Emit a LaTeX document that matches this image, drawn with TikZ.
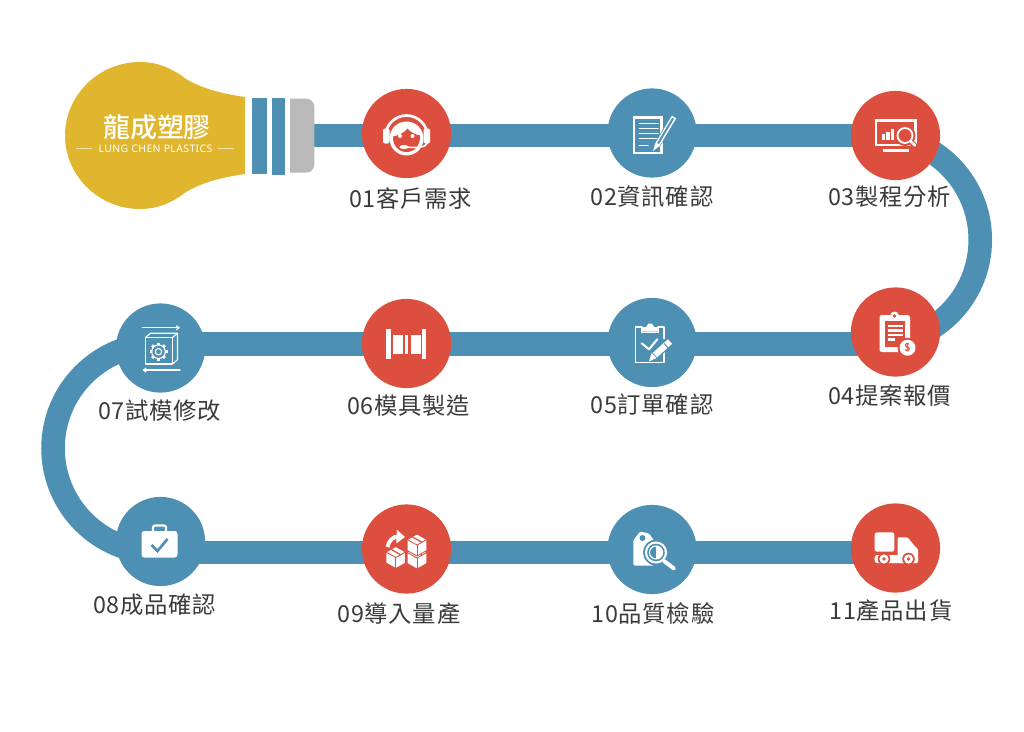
\documentclass[tikz,border=0pt]{standalone}
\usepackage{fontspec}
\newfontfamily\cjklabel[LetterSpace=3]{Noto Sans CJK TC}
\newfontfamily\cjklogo{Noto Sans CJK TC Medium}
\newfontfamily\logolatin[LetterSpace=4]{Noto Sans}
\usetikzlibrary{backgrounds,arrows.meta,calc}
\definecolor{pipeblue}{HTML}{4D90B3}
\definecolor{stopred}{HTML}{DC4F3F}
\definecolor{bulbgold}{HTML}{DFB62E}
\definecolor{capgrey}{HTML}{B9B9B9}
\definecolor{labelgrey}{HTML}{3A3A3A}
\tikzset{
  pipe/.style={line width=5.9mm, draw=pipeblue, line cap=butt},
  redstop/.style={circle, fill=stopred, minimum size=22.3mm, inner sep=0pt},
  bluestop/.style={circle, fill=pipeblue, minimum size=22.3mm, inner sep=0pt},
  stoplabel/.style={font=\cjklabel\fontsize{16.6}{17}\selectfont, text=labelgrey, inner sep=0pt},
  iconline/.style={draw=white, line width=1.1pt, line cap=round, line join=round},
  iconbold/.style={draw=white, line width=1.9pt, line cap=round, line join=round},
}

\begin{document}
\begin{tikzpicture}[x=0.25mm, y=-0.25mm]
\useasboundingbox (0,0) rectangle (1024,731);
% stops
\node[redstop] (n01) at (406.5,133.5) {};
\node[bluestop] (n02) at (652,133) {};
\node[redstop] (n03) at (895.5,135.5) {};
\node[redstop] (n04) at (895.5,332) {};
\node[bluestop] (n05) at (652,342.5) {};
\node[redstop] (n06) at (406.5,343.5) {};
\node[bluestop] (n07) at (160.5,348) {};
\node[bluestop] (n08) at (160.5,541.5) {};
\node[redstop] (n09) at (406.5,549) {};
\node[bluestop] (n10) at (652,549.5) {};
\node[redstop] (n11) at (895.5,548) {};
\coordinate (rowa) at (0,135.5);
\coordinate (rowb) at (0,344);
\coordinate (rowc) at (0,552.5);
\coordinate (capend) at (310,135.5);
\coordinate (bendr) at (876,135.5);
\coordinate (bendl) at (157.3,344);
% pipes
\begin{pgfonlayer}{background}
\draw[pipe] (capend) -- (n01 |- rowa);
\draw[pipe] (n01 |- rowa) -- (n02 |- rowa);
\draw[pipe] (n02 |- rowa) -- (n03 |- rowa);
\draw[pipe] (bendr) arc[start angle=-90, end angle=90, radius=104.25];
\draw[pipe] (n04 |- rowb) -- (n05 |- rowb);
\draw[pipe] (n05 |- rowb) -- (n06 |- rowb);
\draw[pipe] (n06 |- rowb) -- (n07 |- rowb);
\draw[pipe] (bendl) arc[start angle=270, end angle=90, radius=104.25];
\draw[pipe] (n08 |- rowc) -- (n09 |- rowc);
\draw[pipe] (n09 |- rowc) -- (n10 |- rowc);
\draw[pipe] (n10 |- rowc) -- (n11 |- rowc);
\end{pgfonlayer}
% labels
\node[stoplabel] (lab01) at (410.5,199) {01客戶需求};
\node[stoplabel] (lab02) at (652,197) {02資訊確認};
\node[stoplabel] (lab03) at (889.5,197) {03製程分析};
\node[stoplabel] (lab04) at (889.5,396) {04提案報價};
\node[stoplabel] (lab05) at (652,405) {05訂單確認};
\node[stoplabel] (lab06) at (408.5,406) {06模具製造};
\node[stoplabel] (lab07) at (159.5,411) {07試模修改};
\node[stoplabel] (lab08) at (154.5,605) {08成品確認};
\node[stoplabel] (lab09) at (399,614) {09導入量產};
\node[stoplabel] (lab10) at (653,614) {10品質檢驗};
\node[stoplabel] (lab11) at (891,611) {11產品出貨};
% bulb
\fill[bulbgold] (245,97) .. controls (225,94) and (205,90) .. (186,79)
  .. controls (172,68) and (157,62) .. (140,62)
  .. controls (99,62) and (65,95) .. (65,135.5)
  .. controls (65,176) and (99,209) .. (140,209)
  .. controls (157,209) and (172,203) .. (186,192)
  .. controls (205,181) and (225,177) .. (245,174) -- cycle;
\fill[pipeblue] (251.7,97.7) rectangle (266.7,174.3);
\fill[pipeblue] (272.3,97.7) rectangle (285,174.8);
\fill[capgrey] (290,98.7) [rounded corners=2mm] -- (314.3,98.7) -- (314.3,172.7) [sharp corners] -- (290,172.7) -- cycle;
\node[font=\cjklogo\fontsize{19.2}{19}\selectfont, text=white, inner sep=0pt] (logozh) at (157,127.5) {龍成塑膠};
\node[font=\logolatin\fontsize{7.4}{7}\selectfont, text=white, inner sep=0pt] (logoen) at (155.5,148.5) {LUNG CHEN PLASTICS};
\draw[white!60!bulbgold, line width=0.4pt] (76,148.5) -- (92,148.5);
\draw[white!60!bulbgold, line width=0.4pt] (218,148.5) -- (234,148.5);
% 01 headset
\begin{scope}[shift={(n01)}]
\draw[iconbold] (-21,3) arc[start angle=180, end angle=360, radius=21];
\fill[white] (0,5) circle (17);
\fill[stopred] (-13.5,3) .. controls (-8,2) and (-2,-1) .. (1,-5) .. controls (4,-1) and (9,1) .. (13.5,2) .. controls (14,12) and (8,18.5) .. (0,18.5) .. controls (-8,18.5) and (-14,12) .. (-13.5,3) -- cycle;
\fill[white] (-6.5,2.5) circle (2);
\fill[white] (6,2.5) circle (2);
\fill[white, rounded corners=0.5mm] (-23.5,-5) rectangle (-17,10);
\fill[white, rounded corners=0.5mm] (17,-5) rectangle (23.5,10);
\draw[iconline] (20.5,10) .. controls (19,14) and (10,14.5) .. (0,13.5);
\fill[white] (-2.5,13.5) ellipse (4.5 and 2);
\end{scope}
% 02 document
\begin{scope}[shift={(n02)}]
\draw[draw=white, line width=1.5pt] (-18,-15.5) rectangle (9.5,20);
\foreach \ly in {-9.5,-4.5,0.5,5.5} {
\draw[iconline] (-12.5,\ly) -- (6,\ly);
}
\draw[iconline] (-12.5,12.5) -- (-4,12.5);
\draw[pipeblue, line width=4.5pt] (22,-16) -- (4,14);
\draw[white, line width=3.6pt] (22,-16) -- (5,12.5);
\draw[pipeblue, line width=1.4pt] (21,-14.5) -- (6,10.5);
\fill[white] (1,18) -- (3.2,10.5) -- (7.5,13) -- cycle;
\end{scope}
% 03 monitor
\begin{scope}[shift={(n03)}]
\draw[draw=white, line width=1.9pt] (-19.5,-15) rectangle (20,9.5);
\fill[white] (-13,13) rectangle (13.5,16);
\fill[white] (-14,-2) rectangle (-10.5,4.5);
\fill[white] (-9.5,-4) rectangle (-6,4.5);
\fill[white] (-5,-7) rectangle (-1.5,4.5);
\draw[stopred, line width=3.5pt] (9.5,0) circle (8);
\draw[stopred, line width=4pt] (15,6) -- (21,12);
\draw[white, line width=1.3pt] (9.5,0) circle (7.5);
\draw[white, line width=1.9pt, line cap=round] (15,5.5) -- (19.5,10);
\end{scope}
% 04 clipboard and coin
\begin{scope}[shift={(n04)}]
\fill[white, rounded corners=0.6mm] (-16,-17) rectangle (14.5,20);
\fill[white] (-1,-16) circle (4.5);
\fill[stopred] (-1,-16) circle (1.8);
\fill[stopred] (-11,-11) rectangle (9.5,14.7);
\foreach \ly/\lx in {-6/7,-1.5/7,3/7,7.5/-1} {
\draw[draw=white, line width=1.5pt] (-8,\ly) -- (\lx,\ly);
}
\fill[stopred] (12,15.7) circle (10);
\fill[white] (12,15.7) circle (8);
\node[font=\sffamily\bfseries\fontsize{8}{8}\selectfont, text=stopred, inner sep=0pt] (coin) at (12,15.7) {\$};
\end{scope}
% 05 clipboard and pencil
\begin{scope}[shift={(n05)}]
\draw[iconline] (-10,-15.5) -- (-16.7,-15.5) -- (-16.7,20) -- (12,20) -- (12,8);
\draw[iconline] (12,-4) -- (12,-15.5) -- (6,-15.5);
\draw[iconline] (-10.3,-15) -- (-10.3,-10) -- (6.3,-10) -- (6.3,-15);
\fill[white] (-6,-15.5) -- (-3.5,-19) -- (0,-19) -- (2,-15.5) -- (6.3,-15.5) -- (6.3,-11) -- (-10.3,-11) -- (-10.3,-15.5) -- cycle;
\draw[white, line width=1.5pt, line cap=round, line join=round] (-10.3,0.8) -- (-3,6.8) -- (5.3,-3.2);
\draw[pipeblue, line width=6.5pt] (18,-1) -- (1,14);
\draw[white, line width=4.4pt] (18,-1) -- (3,12.5);
\draw[pipeblue, line width=0.7pt] (12.2,1) -- (16.4,6);
\fill[white] (-3,19) -- (-0.5,10.5) -- (4.5,15.5) -- cycle;
\end{scope}
% 06 mould
\begin{scope}[shift={(n06)}]
\fill[white] (-20.5,-14.5) rectangle (-16,15.5);
\fill[white] (15,-14.5) rectangle (19.5,15.5);
\fill[white] (-14,-8.5) rectangle (-4,10);
\fill[white] (-1.5,-8.5) rectangle (1.5,10);
\fill[white] (4,-8.5) rectangle (14,10);
\end{scope}
% 07 box and gear
\begin{scope}[shift={(n07)}]
\draw[iconline, line width=0.8pt, -{Straight Barb[length=2pt,width=3pt]}] (-18,-20.3) -- (19.5,-20.3);
\draw[iconline, line width=0.8pt, -{Straight Barb[length=2pt,width=3pt]}] (19.5,22) -- (-18,22);
\draw[iconline, line width=0.8pt] (-15,-10.5) rectangle (12,16);
\draw[iconline, line width=0.8pt] (-15,-10.5) -- (-10,-14.8) -- (17,-14.8) -- (17,11.7) -- (12,16);
\draw[iconline, line width=0.8pt] (12,-10.5) -- (17,-14.8);
\draw[iconline, line width=0.8pt] (-2,3.7) circle (6.8);
\draw[iconline, line width=0.8pt] (-2,3.7) circle (3.2);
\foreach \a in {0,45,...,315} {
\draw[white, line width=2pt] ($(-2,3.7)+(\a:6.8)$) -- ($(-2,3.7)+(\a:9)$);
}
\end{scope}
% 08 briefcase
\begin{scope}[shift={(n08)}]
\draw[draw=white, line width=1.5pt, rounded corners=0.5mm] (-7.5,-9) -- (-7.5,-16) -- (5.5,-16) -- (5.5,-9);
\fill[white, rounded corners=0.7mm] (-19,-10.5) rectangle (17,16);
\draw[pipeblue, line width=1.9pt] (-9,3.5) -- (-3,9.5) -- (7,-2.5);
\end{scope}
% 09 boxes
\begin{scope}[shift={(n09)}]
\foreach \bx/\by in {10.5/9,-10.7/8.5,10.5/-4} {
\filldraw[fill=white, draw=stopred, line width=0.6pt] (\bx,\by-11) -- (\bx+9.8,\by-5.5) -- (\bx+9.8,\by+5.5) -- (\bx,\by+11) -- (\bx-9.8,\by+5.5) -- (\bx-9.8,\by-5.5) -- cycle;
\draw[stopred, line width=0.6pt] (\bx-9.8,\by-5.5) -- (\bx,\by) -- (\bx+9.8,\by-5.5);
\draw[stopred, line width=0.6pt] (\bx,\by) -- (\bx,\by+11);
\draw[stopred, line width=0.9pt] (\bx-4.5,\by-8) -- (\bx+4.8,\by-2.8);
}
\draw[white, line width=2.8pt, -{Triangle[length=6pt,width=9.5pt]}] (-19,-2) .. controls (-18,-9) and (-12,-12.5) .. (-1.5,-12);
\end{scope}
% 10 tag and magnifier
\begin{scope}[shift={(n10)}]
\fill[white, rounded corners=0.3mm] (-18.7,-9) -- (-12,-18) -- (-3,-16) -- (2,-9) -- (2,16) -- (-18.7,16) -- cycle;
\fill[pipeblue] (-9.5,-11.5) circle (3);
\fill[pipeblue] (4,3) circle (13);
\draw[white, line width=1.5pt] (4,3) circle (10);
\draw[white, line width=0.8pt] (4,3) circle (6.5);
\fill[white] (4,-3.5) arc[start angle=-90, end angle=90, radius=6.5] -- cycle;
\draw[white, line width=2.8pt, line cap=round] (12,11.5) -- (22,19);
\end{scope}
% 11 truck
\begin{scope}[shift={(n11)}]
\fill[white, rounded corners=0.6mm] (-20.8,-15.7) rectangle (-1.2,3.7);
\fill[white, rounded corners=0.3mm] (2,-10.7) -- (12,-10.7) -- (20,-1) -- (22.5,1) -- (22.5,15) -- (2,15) -- cycle;
\fill[white, rounded corners=0.6mm] (-20.8,7) rectangle (22.5,15);
\fill[stopred] (-11.5,11) circle (6.3);
\fill[white] (-11.5,11) circle (4.6);
\fill[stopred] (-11.5,11) circle (1.9);
\fill[stopred] (13,11) circle (6.3);
\fill[white] (13,11) circle (4.6);
\fill[stopred] (13,11) circle (1.9);
\end{scope}
\end{tikzpicture}
\end{document}
